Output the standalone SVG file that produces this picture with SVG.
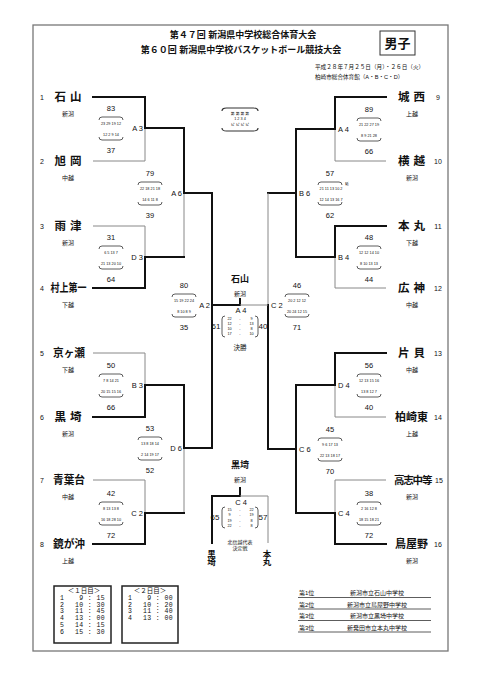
<svg xmlns="http://www.w3.org/2000/svg" xmlns:xlink="http://www.w3.org/1999/xlink" width="481" height="680" viewBox="0 0 481 680">
<defs>
<style>
text{font-family:"Liberation Sans","Noto Sans CJK JP",sans-serif;fill:#111}
.nm{font-size:11.5px;font-weight:bold}
.sd{font-size:7px;text-anchor:middle}
.rg{font-size:6px;text-anchor:middle}
.sc{font-size:7.5px;text-anchor:middle}
.q{font-size:3.8px;text-anchor:middle}
.lb{font-size:7.5px}
.thk{stroke:#111;stroke-width:2;fill:none;stroke-linecap:square}
.thn{stroke:#888;stroke-width:1;fill:none}
.br{stroke:#333;stroke-width:0.8;fill:none}
.mono{font-family:"Liberation Mono",monospace;font-size:6.5px;letter-spacing:0.4px}
.sm{font-size:6px}
</style>
<path id="brace" class="br" d="M-12,-8 Q-12,-11 -9,-11 H9 Q12,-11 12,-8 M-12,9 Q-12,12 -9,12 H9 Q12,12 12,9"/>
<path id="vbr" class="br" d="M3,0 Q0,0 0,3 V18 Q0,21 3,21 M33,0 Q36,0 36,3 V18 Q36,21 33,21"/>
</defs>
<rect width="481" height="680" fill="#fff"/>
<rect x="33" y="25" width="415" height="626" fill="none" stroke="#777" stroke-width="1.3"/>

<g id="title">
<text x="243" y="38" font-size="9" font-weight="bold" text-anchor="middle">第４７回 新潟県中学校総合体育大会</text>
<text x="241" y="53" font-size="9" font-weight="bold" text-anchor="middle">第６０回 新潟県中学校バスケットボール競技大会</text>
<rect x="380" y="31" width="35" height="24" fill="none" stroke="#333" stroke-width="1"/>
<text x="397.5" y="48" font-size="13" font-weight="bold" text-anchor="middle">男子</text>
<text x="315" y="69" font-size="5.6">平成２８年７月２５日（月）・２６日（火）</text>
<text x="315" y="79" font-size="5.6">柏崎市総合体育館（A・B・C・D）</text>
</g>

<g id="connectors">
<path class="thk" d="M93,97 H145 V128"/>
<path class="thn" d="M93,161 H145 V128"/>
<path class="thn" d="M93,226 H145 V257"/>
<path class="thk" d="M93,288 H145 V257"/>
<path class="thn" d="M93,353 H145 V385"/>
<path class="thk" d="M93,417 H145 V385"/>
<path class="thn" d="M93,480 H145 V513"/>
<path class="thk" d="M93,544 H145 V513"/>
<path class="thk" d="M145,128 H184 V193"/>
<path class="thn" d="M184,193 V257"/>
<path class="thk" d="M145,257 H184"/>
<path class="thk" d="M145,385 H184 V448"/>
<path class="thn" d="M184,448 V513"/>
<path class="thk" d="M145,513 H184"/>
<path class="thk" d="M184,193 H212 V448 H184"/>
<path class="thk" d="M386,97 H335 V129"/>
<path class="thn" d="M386,161 H335 V129"/>
<path class="thk" d="M386,226 H335 V257"/>
<path class="thn" d="M386,288 H335 V257"/>
<path class="thk" d="M386,353 H335 V385"/>
<path class="thn" d="M386,417 H335 V385"/>
<path class="thn" d="M386,480 H335 V513"/>
<path class="thk" d="M386,544 H335 V513"/>
<path class="thk" d="M335,129 H296 V257 H335"/>
<path class="thk" d="M335,385 H296 V513 H335"/>
<path class="thk" d="M296,193 H268"/>
<path class="thn" d="M268,193 V305"/>
<path class="thk" d="M268,305 V449 H296"/>
<path class="thk" d="M212,305 H240 V299"/>
<path class="thn" d="M240,305 H268"/>
<path class="thk" d="M212,543 V496 H240 V488"/>
<path class="thn" d="M240,496 H268 V543"/>
</g>

<g id="legend">
<use xlink:href="#brace" transform="translate(240,119) scale(1.5,1)"/>
<text class="q" x="240" y="114.5">第 第 第 第</text>
<text class="q" x="240" y="120">1 2 3 4</text>
<text class="q" x="240" y="125.5">ピ ピ ピ ピ</text>
</g>

<g id="t1"><text class="sd" x="42" y="100">1</text><text class="nm" x="54.5" y="101" textLength="27" lengthAdjust="spacing">石山</text><text class="rg" x="68" y="116">新潟</text></g>
<g id="t2"><text class="sd" x="42" y="164">2</text><text class="nm" x="54.5" y="165" textLength="27" lengthAdjust="spacing">旭岡</text><text class="rg" x="68" y="180">中越</text></g>
<g id="t3"><text class="sd" x="42" y="229">3</text><text class="nm" x="54.5" y="230" textLength="27" lengthAdjust="spacing">雨津</text><text class="rg" x="68" y="245">新潟</text></g>
<g id="t4"><text class="sd" x="42" y="291">4</text><text class="nm" x="50.5" y="292" textLength="36" lengthAdjust="spacingAndGlyphs">村上第一</text><text class="rg" x="68" y="307">下越</text></g>
<g id="t5"><text class="sd" x="42" y="356">5</text><text class="nm" x="53" y="357" textLength="32" lengthAdjust="spacingAndGlyphs">京ヶ瀬</text><text class="rg" x="68" y="372">下越</text></g>
<g id="t6"><text class="sd" x="42" y="420">6</text><text class="nm" x="54.5" y="421" textLength="27" lengthAdjust="spacing">黒埼</text><text class="rg" x="68" y="436">新潟</text></g>
<g id="t7"><text class="sd" x="42" y="483">7</text><text class="nm" x="53" y="484" textLength="32" lengthAdjust="spacingAndGlyphs">青葉台</text><text class="rg" x="68" y="499">中越</text></g>
<g id="t8"><text class="sd" x="42" y="547">8</text><text class="nm" x="53" y="548" textLength="32" lengthAdjust="spacingAndGlyphs">鏡が沖</text><text class="rg" x="68" y="563">上越</text></g>

<g id="t9"><text class="sd" x="438" y="100">9</text><text class="nm" x="398" y="101" textLength="27" lengthAdjust="spacing">城西</text><text class="rg" x="412" y="116">上越</text></g>
<g id="t10"><text class="sd" x="438" y="164">10</text><text class="nm" x="398" y="165" textLength="27" lengthAdjust="spacing">横越</text><text class="rg" x="412" y="180">新潟</text></g>
<g id="t11"><text class="sd" x="438" y="229">11</text><text class="nm" x="398" y="230" textLength="27" lengthAdjust="spacing">本丸</text><text class="rg" x="412" y="245">下越</text></g>
<g id="t12"><text class="sd" x="438" y="291">12</text><text class="nm" x="398" y="292" textLength="27" lengthAdjust="spacing">広神</text><text class="rg" x="412" y="307">中越</text></g>
<g id="t13"><text class="sd" x="438" y="356">13</text><text class="nm" x="398" y="357" textLength="27" lengthAdjust="spacing">片貝</text><text class="rg" x="412" y="372">中越</text></g>
<g id="t14"><text class="sd" x="438" y="420">14</text><text class="nm" x="395" y="421" textLength="33" lengthAdjust="spacingAndGlyphs">柏崎東</text><text class="rg" x="412" y="436">上越</text></g>
<g id="t15"><text class="sd" x="439" y="483">15</text><text x="394" y="484" font-size="10.5" font-weight="bold" letter-spacing="-1.2">高志中等</text><text class="rg" x="412" y="499">新潟</text></g>
<g id="t16"><text class="sd" x="438" y="547">16</text><text class="nm" x="395" y="548" textLength="33" lengthAdjust="spacingAndGlyphs">鳥屋野</text><text class="rg" x="412" y="563">新潟</text></g>

<g id="mA3" transform="translate(111,128)"><use xlink:href="#brace"/><text class="sc" y="-17">83</text><text class="q" y="-3.5">23 29 19 12</text><text class="q" y="7.5">12 2 9 14</text><text class="sc" y="25">37</text><text class="lb" x="32" y="3" text-anchor="end">A 3</text></g>
<g id="mD3" transform="translate(111,257)"><use xlink:href="#brace"/><text class="sc" y="-17">31</text><text class="q" y="-3.5">6 5 13 7</text><text class="q" y="7.5">21 13 20 10</text><text class="sc" y="25">64</text><text class="lb" x="32" y="3" text-anchor="end">D 3</text></g>
<g id="mB3" transform="translate(111,385)"><use xlink:href="#brace"/><text class="sc" y="-17">50</text><text class="q" y="-3.5">7 8 14 21</text><text class="q" y="7.5">20 15 15 16</text><text class="sc" y="25">66</text><text class="lb" x="32" y="3" text-anchor="end">B 3</text></g>
<g id="mC2L" transform="translate(111,513)"><use xlink:href="#brace"/><text class="sc" y="-17">42</text><text class="q" y="-3.5">8 13 13 8</text><text class="q" y="7.5">16 18 28 10</text><text class="sc" y="25">72</text><text class="lb" x="32" y="3" text-anchor="end">C 2</text></g>
<g id="mA6" transform="translate(150,193)"><use xlink:href="#brace"/><text class="sc" y="-17">79</text><text class="q" y="-3.5">22 18 21 18</text><text class="q" y="7.5">14 6 11 8</text><text class="sc" y="25">39</text><text class="lb" x="32" y="3" text-anchor="end">A 6</text></g>
<g id="mD6" transform="translate(150,448)"><use xlink:href="#brace"/><text class="sc" y="-17">53</text><text class="q" y="-3.5">13 8 18 14</text><text class="q" y="7.5">2 14 19 17</text><text class="sc" y="25">52</text><text class="lb" x="32" y="3" text-anchor="end">D 6</text></g>
<g id="mA2" transform="translate(184,305)"><use xlink:href="#brace"/><text class="sc" y="-17">80</text><text class="q" y="-3.5">15 19 22 24</text><text class="q" y="7.5">8 10 8 9</text><text class="sc" y="25">35</text><text class="lb" x="26" y="3" text-anchor="end">A 2</text></g>

<g id="mA4R" transform="translate(369,129)"><use xlink:href="#brace"/><text class="sc" y="-17">89</text><text class="q" y="-3.5">21 22 27 19</text><text class="q" y="7.5">8 9 21 28</text><text class="sc" y="25">66</text><text class="lb" x="-31" y="3">A 4</text></g>
<g id="mB4" transform="translate(369,257)"><use xlink:href="#brace"/><text class="sc" y="-17">48</text><text class="q" y="-3.5">12 12 14 10</text><text class="q" y="7.5">8 10 13 13</text><text class="sc" y="25">44</text><text class="lb" x="-31" y="3">B 4</text></g>
<g id="mD4" transform="translate(369,385)"><use xlink:href="#brace"/><text class="sc" y="-17">56</text><text class="q" y="-3.5">12 13 15 16</text><text class="q" y="7.5">13 8 12 7</text><text class="sc" y="25">40</text><text class="lb" x="-31" y="3">D 4</text></g>
<g id="mC4R" transform="translate(369,513)"><use xlink:href="#brace"/><text class="sc" y="-17">38</text><text class="q" y="-3.5">2 16 12 8</text><text class="q" y="7.5">18 15 18 21</text><text class="sc" y="25">72</text><text class="lb" x="-31" y="3">C 4</text></g>
<g id="mB6" transform="translate(330,193)"><use xlink:href="#brace"/><text class="sc" y="-17">57</text><text class="q" x="17" y="-8" text-anchor="start">延</text><text class="q" x="1" y="-3.5">21 11 13 10 2</text><text class="q" x="1" y="7.5">12 14 13 16 7</text><text class="sc" y="25">62</text><text class="lb" x="-31" y="3">B 6</text></g>
<g id="mC6" transform="translate(330,449)"><use xlink:href="#brace"/><text class="sc" y="-17">45</text><text class="q" y="-3.5">9 6 17 13</text><text class="q" y="7.5">22 13 18 17</text><text class="sc" y="25">70</text><text class="lb" x="-31" y="3">C 6</text></g>
<g id="mC2R" transform="translate(297,305)"><use xlink:href="#brace"/><text class="sc" y="-17">46</text><text class="q" y="-3.5">20 2 12 12</text><text class="q" y="7.5">20 24 12 15</text><text class="sc" y="25">71</text><text class="lb" x="-26" y="3">C 2</text></g>

<g id="final">
<text x="240" y="282" font-size="9" font-weight="bold" text-anchor="middle">石山</text>
<text class="rg" x="240" y="296">新潟</text>
<text class="lb" x="241" y="313" text-anchor="middle">A 4</text>
<use xlink:href="#vbr" x="222" y="316"/>
<text x="216" y="329" font-size="8" text-anchor="middle">61</text>
<text x="263" y="329" font-size="8" text-anchor="middle">40</text>
<text class="q" x="229.5" y="319.5">22</text><text class="q" x="240" y="319.5">-</text><text class="q" x="251.5" y="319.5">9</text>
<text class="q" x="229.5" y="324.5">12</text><text class="q" x="240" y="324.5">-</text><text class="q" x="251.5" y="324.5">13</text>
<text class="q" x="229.5" y="329.5">10</text><text class="q" x="240" y="329.5">-</text><text class="q" x="251.5" y="329.5">8</text>
<text class="q" x="229.5" y="335">17</text><text class="q" x="240" y="335">-</text><text class="q" x="251.5" y="335">10</text>
<text x="240" y="350" font-size="6.5" text-anchor="middle">決勝</text>
</g>

<g id="third">
<text x="240" y="468" font-size="9" font-weight="bold" text-anchor="middle">黒埼</text>
<text class="rg" x="240" y="481.5">新潟</text>
<text class="lb" x="241" y="505" text-anchor="middle">C 4</text>
<use xlink:href="#vbr" x="222" y="507"/>
<text x="215" y="520" font-size="8" text-anchor="middle">65</text>
<text x="263" y="520" font-size="8" text-anchor="middle">57</text>
<text class="q" x="229.5" y="510.5">15</text><text class="q" x="240" y="510.5">-</text><text class="q" x="251.5" y="510.5">22</text>
<text class="q" x="229.5" y="516">9</text><text class="q" x="240" y="516">-</text><text class="q" x="251.5" y="516">19</text>
<text class="q" x="229.5" y="521.5">19</text><text class="q" x="240" y="521.5">-</text><text class="q" x="251.5" y="521.5">8</text>
<text class="q" x="229.5" y="527">22</text><text class="q" x="240" y="527">-</text><text class="q" x="251.5" y="527">8</text>
<text x="240" y="543.5" font-size="5" text-anchor="middle">北信越代表</text>
<text x="240" y="549.5" font-size="5" text-anchor="middle">決定戦</text>
<text x="211.5" y="556.5" font-size="8.5" font-weight="bold" text-anchor="middle">黒</text>
<text x="211.5" y="565" font-size="8.5" font-weight="bold" text-anchor="middle">埼</text>
<text x="267" y="556.5" font-size="8.5" font-weight="bold" text-anchor="middle">本</text>
<text x="267" y="565" font-size="8.5" font-weight="bold" text-anchor="middle">丸</text>
</g>

<g id="day1">
<rect x="54" y="586" width="57" height="57" fill="none" stroke="#222" stroke-width="1.5"/>
<text x="84" y="592.5" font-size="6.5" text-anchor="middle">＜１日目＞</text>
<text class="mono" x="60" y="600">1</text><text class="mono" x="105" y="600" text-anchor="end">9 : 15</text>
<text class="mono" x="60" y="606.7">2</text><text class="mono" x="105" y="606.7" text-anchor="end">10 : 30</text>
<text class="mono" x="60" y="613.4">3</text><text class="mono" x="105" y="613.4" text-anchor="end">11 : 45</text>
<text class="mono" x="60" y="620.1">4</text><text class="mono" x="105" y="620.1" text-anchor="end">13 : 00</text>
<text class="mono" x="60" y="626.8">5</text><text class="mono" x="105" y="626.8" text-anchor="end">14 : 15</text>
<text class="mono" x="60" y="633.5">6</text><text class="mono" x="105" y="633.5" text-anchor="end">15 : 30</text>
</g>
<g id="day2">
<rect x="122" y="586" width="56" height="57" fill="none" stroke="#222" stroke-width="1.5"/>
<text x="150" y="592.5" font-size="6.5" text-anchor="middle">＜２日目＞</text>
<text class="mono" x="128" y="600">1</text><text class="mono" x="173" y="600" text-anchor="end">9 : 00</text>
<text class="mono" x="128" y="606.7">2</text><text class="mono" x="173" y="606.7" text-anchor="end">10 : 20</text>
<text class="mono" x="128" y="613.4">3</text><text class="mono" x="173" y="613.4" text-anchor="end">11 : 40</text>
<text class="mono" x="128" y="620.1">4</text><text class="mono" x="173" y="620.1" text-anchor="end">13 : 00</text>
</g>

<g id="results">
<text class="sm" x="299" y="595">第1位</text><text class="sm" x="377" y="595" text-anchor="middle">新潟市立石山中学校</text>
<text class="sm" x="299" y="606.5">第2位</text><text class="sm" x="377" y="606.5" text-anchor="middle">新潟市立鳥屋野中学校</text>
<text class="sm" x="299" y="618">第3位</text><text class="sm" x="377" y="618" text-anchor="middle">新潟市立黒埼中学校</text>
<text class="sm" x="299" y="629.5">第3位</text><text class="sm" x="377" y="629.5" text-anchor="middle">新発田市立本丸中学校</text>
<path d="M298,597.5 H431 M298,609 H431 M298,620.5 H431 M298,632 H431" stroke="#333" stroke-width="0.8"/>
</g>
</svg>
